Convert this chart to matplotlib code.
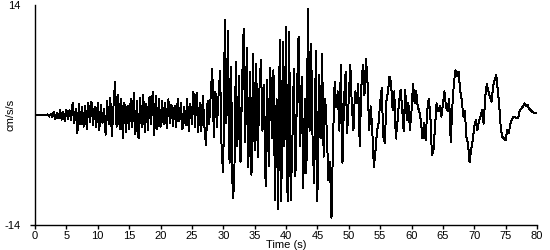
import numpy as np
import matplotlib
matplotlib.use("Agg")
import matplotlib.pyplot as plt

# ==============================
# DATA (one value every 0.25 s)
# ==============================
dt = 0.25
accel = [
    # 0 - 10 s
    0, 0, 0, 0,
    0, 0.05, 0, -0.05,
    0.1, -0.2, 0.15, -0.3,
    0.4, -0.5, 0.3, -0.4,
    0.6, -0.6, 0.4, -0.8,
    0.7, -0.5, 0.6, -0.7,
    1.6, -1.0, 0.8, -2.3,
    1.4, -1.2, 1.0, -1.5,
    1.2, -1.8, 1.5, -0.9,
    1.7, -1.3, 1.0, -1.6,
    # 10 - 20 s
    1.5, -1.9, 1.3, -1.0,
    0.8, -2.5, 1.8, -1.2,
    2.2, -2.7, 1.0, 4.2,
    -1.5, 2.5, -1.8, 2.0,
    -3.0, 1.6, -2.2, 1.2,
    -1.8, 2.0, -1.5, 2.8,
    -2.4, 1.8, -3.0, 2.2,
    -1.6, 2.6, -2.2, 1.4,
    -1.9, 2.3, -1.2, 3.0,
    -2.6, 2.4, -1.8, 2.0,
    # 20 - 30 s
    -1.5, 1.8, -1.2, 1.5,
    -1.7, 2.0, -1.0, 1.3,
    -1.4, 1.2, -1.6, 2.1,
    -0.8, 1.5, -1.8, 1.0,
    -1.3, 2.0, -2.0, 1.4,
    -1.1, 3.0, -1.5, 2.8,
    -2.2, 1.5, -2.0, 2.4,
    -1.5, -3.8, 1.8, -1.2,
    2.5, 5.9, -2.8, 3.0,
    -1.5, 2.5, 5.6, -4.9,
    # 30 - 40 s
    -7.3, 12.1, -1.0, 10.7,
    -6.1, 6.1, -10.6, -8.9,
    6.8, -4.0, 5.0, -6.0,
    4.0, 11.0, -3.5, 8.5,
    -6.6, 5.5, -7.6, 7.8,
    -4.5, 6.5, -5.3, 3.0,
    7.0, -2.0, 3.8, -9.1,
    4.5, -6.5, 6.0, -3.0,
    5.7, -10.8, 2.0, -12.0,
    9.5, -11.0, 9.3, -4.0,
    # 40 - 50 s
    11.2, -11.0, 10.6, -10.8,
    -4.0, 5.9, -7.8, 3.0,
    10.0, -4.0, 4.9, -9.3,
    2.0, -7.4, 13.5, -2.0,
    9.1, -4.0, -8.7, 8.1,
    -11.0, 5.1, -3.0, 7.8,
    -5.3, 2.1, -2.0, -8.3,
    -6.0, -13.1, -3.0, 4.2,
    1.0, 3.0, -2.0, 6.4,
    -6.1, 2.0, 5.5, -2.3,
    # 50 - 60 s
    2.0, 6.4, 1.0, -1.9,
    3.0, 1.5, 4.0, -4.0,
    3.5, 6.4, 2.5, 7.2,
    4.0, -1.9, 1.1, -2.0,
    -6.6, -4.7, -2.0, -1.0,
    1.5, 3.4, -2.8, -3.6,
    1.8, 3.0, 4.9, 4.0,
    0.6, 3.0, -3.0, -1.0,
    1.5, 3.2, 1.0, -2.1,
    3.2, -0.6, 1.5, -1.9,
    # 60 - 70 s
    0.5, 4.0, 1.5, 3.0,
    1.0, 0.5, -0.8, -3.0,
    -1.0, -3.2, 0.5, 2.1,
    0.0, -5.1, -4.5, -1.5,
    1.5, 0.5, 1.1, -0.2,
    1.3, 3.0, 1.0, 0.5,
    2.1, -3.4, 1.0, 4.0,
    5.7, 5.0, 5.5, 3.2,
    2.0, -0.2, 0.5, -2.8,
    -3.6, -6.0, -4.5, -3.2,
    # 70 - 80 s
    -1.5, -0.6, -1.9, -0.8,
    -0.2, 0.6, -1.1, 2.3,
    4.0, 3.0, 2.3, 1.7,
    3.6, 4.5, 5.1, 3.2,
    1.0, -1.9, -2.8, -3.0,
    -3.2, -1.9, -2.3, -1.2,
    -0.6, -0.2, -0.3, -0.4,
    -0.4, 0.6, 0.8, 1.1,
    1.5, 1.1, 1.3, 0.8,
    0.6, 0.4, 0.3, 0.3,
    0.3,
]
time = np.arange(len(accel)) * dt

x_ticks = list(range(0, 81, 5))
y_ticks = [-14, 14]

# ==============================
# PLOT
# ==============================
plt.rcParams['font.family'] = ['Liberation Sans', 'DejaVu Sans']

fig = plt.figure(figsize=(5.5, 2.5), dpi=100)
ax = fig.add_axes([35 / 550, 0.1, 502 / 550, 0.88])

ax.plot(time, accel, color="black", linewidth=0.7, antialiased=False)

ax.set_xlim(0, 80)
ax.set_ylim(-14, 14)
ax.set_xticks(x_ticks)
ax.set_yticks(y_ticks)
ax.set_yticklabels(["-14", "14"])

for s in ["top", "right"]:
    ax.spines[s].set_visible(False)
for s in ["left", "bottom"]:
    ax.spines[s].set_linewidth(1.0)

ax.tick_params(axis="x", direction="out", length=3, width=1, labelsize=8, pad=1)
ax.tick_params(axis="y", direction="out", length=3.5, width=1, labelsize=8, pad=7)
ax.yaxis.get_major_ticks()[1].tick1line.set_visible(False)

ax.set_xlabel("Time (s)", fontsize=8, labelpad=-0.5)
ax.set_ylabel("cm/s/s", fontsize=8)
ax.yaxis.set_label_coords(-0.038, 0.5)

fig.savefig("out.png", dpi=100)
